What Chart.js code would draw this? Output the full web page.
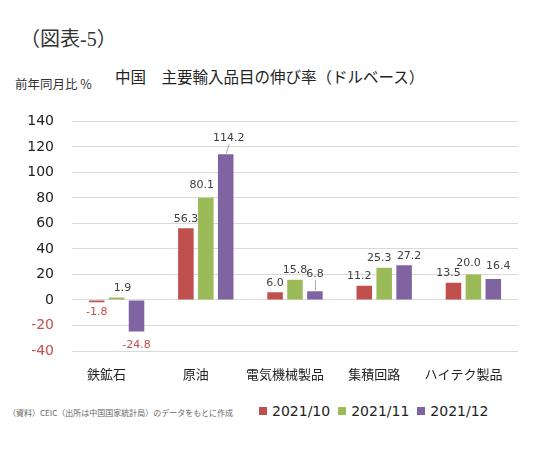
<!DOCTYPE html>
<html lang="ja">
<head>
    <meta charset="UTF-8">
    <title>中国 主要輸入品目の伸び率</title>
    <script src="https://cdn.jsdelivr.net/npm/chart.js@4/dist/chart.umd.min.js"></script>
    <style>
        body{margin:0;width:540px;height:451px;background:#fff;position:relative;overflow:hidden;font-family:"Noto Sans CJK JP",sans-serif;color:#222;}
        #figNo{position:absolute;left:20px;top:23px;font-family:"Liberation Serif","Noto Sans CJK JP",serif;font-size:20px;color:#333;}
        #title{position:absolute;left:115px;top:65px;font-size:15.5px;color:#222;white-space:nowrap;}
        #unit{position:absolute;left:15px;top:74px;font-size:12.5px;color:#333;white-space:nowrap;}
        #source{position:absolute;left:8px;top:407px;font-size:8px;color:#666;white-space:nowrap;}
        #chartBox{position:absolute;left:0;top:95px;width:540px;height:290px;}
        #legend{position:absolute;left:259px;top:403px;font-family:"DejaVu Sans",sans-serif;font-size:14px;color:#222;white-space:nowrap;display:flex;}
        #legend span.item{display:flex;align-items:center;margin-right:8px;}
        #legend span.box{display:inline-block;width:8px;height:8px;margin-right:5px;}
    </style>
</head>
<body>
    <div id="figNo">（図表-5）</div>
    <div id="unit">前年同月比 %</div>
    <div id="title">中国　主要輸入品目の伸び率（ドルベース）</div>
    <div id="chartBox"><canvas id="chart"></canvas></div>
    <div id="source">（資料）CEIC（出所は中国国家統計局）のデータをもとに作成</div>
    <div id="legend"></div>

    <script>
        // data
        const categories=["鉄鉱石","原油","電気機械製品","集積回路","ハイテク製品"];
        const seriesNames=["2021/10","2021/11","2021/12"];
        const oct2021=[-1.8,56.3,6.0,11.2,13.5];
        const nov2021=[1.9,80.1,15.8,25.3,20.0];
        const dec2021=[-24.8,114.2,6.8,27.2,16.4];
        const yTicks=[-40,-20,0,20,40,60,80,100,120,140];

        const colors=["#c0504d","#9bbb59","#8064a2"];
        const negColor="#c0504d";

        // label nudges (dataset-index): lift above bar, sideways shift
        const labelLift={"2-1":11,"2-2":12,"1-1":7,"1-4":6,"2-4":7};
        const labelShift={"1-0":6,"1-1":-4,"2-1":3,"0-3":-5,"1-3":-5,"2-3":5,"0-4":-5,"1-4":-5,"2-4":5};

        const valueLabels={
            id:"valueLabels",
            afterDatasetsDraw(chart){
                const ctx=chart.ctx;
                ctx.save();
                ctx.font='11px "DejaVu Sans"';
                ctx.textAlign="center";
                chart.data.datasets.forEach((ds,i)=>{
                    const meta=chart.getDatasetMeta(i);
                    meta.data.forEach((bar,j)=>{
                        const v=ds.data[j];
                        const text=v.toFixed(1);
                        const dx=labelShift[i+"-"+j]||0;
                        if(v<0){
                            ctx.fillStyle=negColor;
                            ctx.textBaseline="top";
                            ctx.fillText(text,bar.x+dx,bar.y+(v<-10?8:4));
                        }else{
                            const lift=labelLift[i+"-"+j]||4;
                            ctx.fillStyle="#404040";
                            ctx.textBaseline="bottom";
                            ctx.fillText(text,bar.x+dx,bar.y-lift);
                            if(lift>9){
                                ctx.strokeStyle="#a6a6a6";
                                ctx.lineWidth=1;
                                ctx.beginPath();
                                ctx.moveTo(bar.x+0.5,bar.y-1);
                                ctx.lineTo(bar.x+0.5+dx,bar.y-lift+1);
                                ctx.stroke();
                            }
                        }
                    });
                });
                ctx.restore();
            }
        };

        const seriesValues=[oct2021,nov2021,dec2021];
        const datasets=seriesNames.map((name,i)=>({
            label:name,
            data:seriesValues[i],
            backgroundColor:colors[i],
            borderWidth:0,
            barPercentage:0.78,
            categoryPercentage:0.67
        }));

        const chart=new Chart(document.getElementById("chart"),{
            type:"bar",
            data:{labels:categories,datasets},
            options:{
                responsive:true,
                maintainAspectRatio:false,
                animation:false,
                layout:{padding:{left:0,right:22,top:24,bottom:4}},
                plugins:{
                    title:{display:false},
                    tooltip:{enabled:false},
                    legend:{display:false}
                },
                scales:{
                    x:{
                        afterFit(scale){scale.height=30;},
                        grid:{display:false,drawTicks:false},
                        border:{display:false},
                        ticks:{
                            color:"#222",
                            padding:15,
                            labelOffset:-10,
                            font:{family:'"Noto Sans CJK JP"',size:13}
                        }
                    },
                    y:{
                        min:-40,
                        max:140,
                        afterBuildTicks(scale){scale.ticks=yTicks.map(v=>({value:v}));},
                        afterFit(scale){scale.width=72;},
                        grid:{color:"#d9d9d9",drawTicks:false},
                        border:{display:false},
                        ticks:{
                            padding:18,
                            color:ctx=>ctx.tick.value<0?negColor:"#222",
                            font:{family:'"DejaVu Sans"',size:14}
                        }
                    }
                }
            },
            plugins:[valueLabels]
        });

        // legend built from the chart's datasets
        const legend=document.getElementById("legend");
        chart.data.datasets.forEach(ds=>{
            const item=document.createElement("span");
            item.className="item";
            item.innerHTML='<span class="box" style="background:'+ds.backgroundColor+'"></span>'+ds.label;
            legend.appendChild(item);
        });
    </script>
</body>
</html>
